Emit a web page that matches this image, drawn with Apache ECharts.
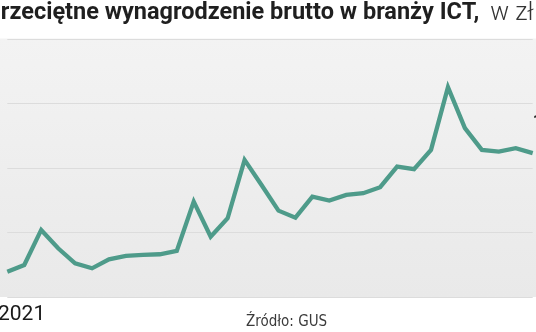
<!DOCTYPE html>
<html>
<head>
<meta charset="utf-8">
<style>html,body{margin:0;padding:0;background:#fff;}#c{width:536px;height:332px;}</style>
<script src="https://cdn.jsdelivr.net/npm/echarts@6/dist/echarts.min.js"></script>
</head>
<body>
<div id="c"></div>
<script>
// Monthly data, January 2021 onward (PLN)
const months = ['I','II','III','IV','V','VI','VII','VIII','IX','X','XI','XII',
  'I','II','III','IV','V','VI','VII','VIII','IX','X','XI','XII',
  'I','II','III','IV','V','VI','VII','VIII'];
const years = [2021,2021,2021,2021,2021,2021,2021,2021,2021,2021,2021,2021,
  2022,2022,2022,2022,2022,2022,2022,2022,2022,2022,2022,2022,
  2023,2023,2023,2023,2023,2023,2023,2023];
const wages = [9392,9496,10039,9755,9522,9445,9584,9636,9651,9662,9713,10478,
  9935,10220,11124,10736,10338,10229,10555,10493,10581,10608,10701,11020,
  10980,11279,12251,11616,11279,11253,11305,11228];
const yearLabel = '2021';
const titleBold = 'Przeciętne wynagrodzenie brutto w branży ICT,';
const titleUnit = 'w zł';
const sourceText = 'Źródło: GUS';

const chart = echarts.init(document.getElementById('c'));
const cats = months.map((m, i) => m + ' ' + years[i]);
const lastIdx = wages.length - 1;
const seriesData = wages.map((v, i) => i === lastIdx ? {
  value: v,
  label: {
    show: true, position: 'right', distance: 0, offset: [0, -31],
    formatter: p => String(p.value).replace(/\B(?=(\d{3})+(?!\d))/g, ' '),
    fontFamily: 'Roboto', fontWeight: 'bold', fontSize: 18, color: '#222'
  }
} : v);

chart.setOption({
  animation: false,
  graphic: [
    {type: 'rect', z: -10, shape: {x: 0, y: 38.5, width: 536, height: 258.5},
     style: {fill: new echarts.graphic.LinearGradient(0, 0, 0, 1, [
       {offset: 0, color: '#f3f3f3'}, {offset: 1, color: '#e9e9e9'}])}},
    {type: 'text', x: -14.3, y: 1,
     style: {
       text: '{b|' + titleBold + '}{r|' + titleUnit + '}',
       rich: {
         b: {fontFamily: 'Roboto', fontWeight: 'bold', fontSize: 23.5, fill: '#1f1f1f'},
         r: {fontFamily: 'Roboto', fontWeight: 300, fontSize: 25, fill: '#333', padding: [0, 0, 0, 11]}
       }
     }},
    {type: 'text', x: -2, y: 304,
     style: {text: yearLabel, fontFamily: 'Roboto', fontSize: 21, fill: '#1a1a1a'}},
    {type: 'text', x: 246, y: 315,
     style: {text: sourceText, fontFamily: 'Liberation Sans Narrow, DejaVu Sans Condensed, sans-serif', fontSize: 15, fill: '#3a3a3a'}}
  ],
  grid: {left: 7.3, right: 3.3, top: 38.8, bottom: 35},
  xAxis: {
    type: 'category', data: cats, boundaryGap: false,
    axisLine: {show: false}, axisTick: {show: false}, axisLabel: {show: false}
  },
  yAxis: {
    type: 'value', min: 9000, max: 13000, interval: 1000,
    axisLine: {show: false}, axisTick: {show: false}, axisLabel: {show: false},
    splitLine: {lineStyle: {color: '#dcdcdc', width: 1}}
  },
  series: [{
    type: 'line', data: seriesData,
    symbol: 'circle', symbolSize: 0, showSymbol: true,
    lineStyle: {color: '#4e9b8a', width: 4.3, join: 'miter'},
    itemStyle: {color: '#4e9b8a'},
    label: {show: false}
  }]
});
</script>
</body>
</html>
